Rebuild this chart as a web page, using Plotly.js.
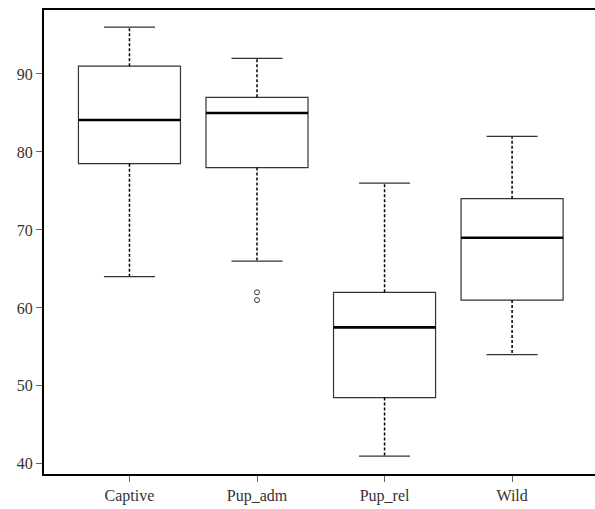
<!DOCTYPE html>
<html>
<head>
<meta charset="utf-8">
<script src="https://cdn.plot.ly/plotly-3.0.1.min.js"></script>
<style>html,body{margin:0;padding:0;background:#fff;}#chart{width:595px;height:509px;}</style>
</head>
<body>
<div id="chart"></div>
<script>
const categories = ["Captive", "Pup_adm", "Pup_rel", "Wild"];
const q1Values = [78.5, 78, 48.5, 61];
const medianValues = [84.1, 85, 57.5, 69];
const q3Values = [91, 87, 62, 74];
const lowerWhisker = [64, 66, 41, 54];
const upperWhisker = [96, 92, 76, 82];
const outlierGroups = [[], [62, 61], [], []];
const yTicks = [40, 50, 60, 70, 80, 90];

const FONT = 'Liberation Serif';
const positions = categories.map((c, i) => i + 1);
const traces = [];
const boxHalf = 0.4, capHalf = 0.2;

categories.forEach((cat, i) => {
  const x = positions[i];
  traces.push({type: 'scatter', mode: 'lines', x: [x, x], y: [q3Values[i], upperWhisker[i]],
    line: {color: '#000', width: 1.5, dash: '3px,2px'}, hoverinfo: 'skip', showlegend: false});
  traces.push({type: 'scatter', mode: 'lines', x: [x, x], y: [q1Values[i], lowerWhisker[i]],
    line: {color: '#000', width: 1.5, dash: '3px,2px'}, hoverinfo: 'skip', showlegend: false});
  traces.push({type: 'scatter', mode: 'lines', x: [x - capHalf, x + capHalf], y: [upperWhisker[i], upperWhisker[i]],
    line: {color: '#333', width: 1.2}, hoverinfo: 'skip', showlegend: false});
  traces.push({type: 'scatter', mode: 'lines', x: [x - capHalf, x + capHalf], y: [lowerWhisker[i], lowerWhisker[i]],
    line: {color: '#333', width: 1.2}, hoverinfo: 'skip', showlegend: false});
  traces.push({type: 'box', x: [x], q1: [q1Values[i]], median: [medianValues[i]], q3: [q3Values[i]],
    lowerfence: [q1Values[i]], upperfence: [q3Values[i]], width: 2 * boxHalf, whiskerwidth: 0,
    fillcolor: '#fff', line: {color: '#333', width: 1.2}, boxpoints: false, showlegend: false, name: cat});
  traces.push({type: 'scatter', mode: 'lines', x: [x - boxHalf, x + boxHalf], y: [medianValues[i], medianValues[i]],
    line: {color: '#000', width: 2.6}, hoverinfo: 'skip', showlegend: false});
  if (outlierGroups[i].length) {
    traces.push({type: 'scatter', mode: 'markers', x: outlierGroups[i].map(() => x), y: outlierGroups[i],
      marker: {symbol: 'circle-open', size: 5, color: '#333', line: {width: 1}}, showlegend: false});
  }
});

const layout = {
  width: 595, height: 509,
  margin: {l: 44, r: 0, t: 10, b: 35},
  paper_bgcolor: '#fff', plot_bgcolor: '#fff',
  font: {family: FONT, size: 16, color: '#333'},
  showlegend: false,
  xaxis: {range: [0.33, 4.65], tickvals: positions, ticktext: categories, ticks: 'outside', ticklen: 6,
    tickcolor: '#666', tickwidth: 1, showgrid: false, zeroline: false, showline: true, linecolor: '#000',
    linewidth: 2, mirror: true, fixedrange: true, tickfont: {family: FONT, size: 16, color: '#333'}},
  yaxis: {range: [38.7, 98.2], tickvals: yTicks, ticks: 'outside', ticklen: 6, tickcolor: '#666',
    tickwidth: 1, showgrid: false, zeroline: false, showline: true, linecolor: '#000', linewidth: 2,
    fixedrange: true, ticklabelstandoff: 0, tickfont: {family: FONT, size: 16, color: '#333'}}
};

Plotly.newPlot('chart', traces, layout, {displayModeBar: false, staticPlot: true});
</script>
</body>
</html>
